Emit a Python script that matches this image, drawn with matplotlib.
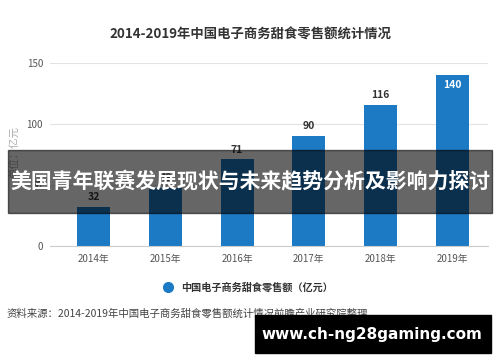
import matplotlib
matplotlib.use("Agg")
import matplotlib.pyplot as plt
from matplotlib.patches import Rectangle
from matplotlib.lines import Line2D

plt.rcParams['font.family'] = ['Noto Sans CJK SC', 'DejaVu Sans']

years = ["2014年", "2015年", "2016年", "2017年", "2018年", "2019年"]
sales = [32, 48, 71, 90, 116, 140]
yticks = [0, 50, 100, 150]

BLUE = "#1c79c4"

fig = plt.figure(figsize=(5, 3.62), dpi=100)
ax = fig.add_axes([0.1, 0.32, 0.876, 0.506])

x = range(len(years))
bars = ax.bar(x, sales, width=0.46, color=BLUE, zorder=2)
for i, v in enumerate(sales):
    if i == len(sales) - 1:
        ax.text(i, v - 4, str(v), ha="center", va="top", color="white",
                fontsize=7.5, fontweight="bold", zorder=3)
    else:
        ax.text(i, v + 4, str(v), ha="center", va="bottom", color="#333333",
                fontsize=7.5, fontweight="bold", zorder=3)

ax.set_xlim(-0.61, 5.5)
ax.set_ylim(0, 150)
ax.set_yticks(yticks)
ax.set_xticks(list(x))
ax.set_xticklabels(years)
ax.grid(axis="y", color="#e3e3e3", linewidth=0.8, zorder=0)
for s in ["top", "right", "left"]:
    ax.spines[s].set_visible(False)
ax.spines["bottom"].set_color("#cccccc")
ax.tick_params(axis="both", length=0, labelsize=7, colors="#555555")
ax.tick_params(axis="y", pad=5)
ax.tick_params(axis="x", pad=6)

fig.text(0.5, 0.903, "2014-2019年中国电子商务甜食零售额统计情况", ha="center", va="center",
         fontsize=9.6, fontweight="bold", color="#333333")
fig.text(0.03, 0.58, "单位：亿元", rotation=90, ha="center", va="center",
         fontsize=7.5, color="#aaaaaa")

handle = Line2D([], [], marker="o", linestyle="none", markersize=7, color=BLUE)
fig.legend(handles=[handle], labels=["中国电子商务甜食零售额（亿元）"], loc="center",
           bbox_to_anchor=(0.49, 0.207), frameon=False, handletextpad=0.3,
           prop={"size": 7.3, "weight": "bold"}, labelcolor="#333333")

fig.text(0.014, 0.133, "资料来源：2014-2019年中国电子商务甜食零售额统计情况前瞻产业研究院整理",
         ha="left", va="center", fontsize=7.5, color="#444444")
fig.text(0.796, 0.088, "@前瞻经济学人APP", ha="left", va="center", fontsize=7.5,
         color="#888888")

# overlay banner
fig.patches.append(Rectangle((0.016, 1 - 213 / 362), 0.968, 63 / 362,
                             transform=fig.transFigure, color="black", alpha=0.6,
                             zorder=5))
fig.text(0.5, 1 - 182 / 362, "美国青年联赛发展现状与未来趋势分析及影响力探讨",
         ha="center", va="center", fontsize=15, fontweight="bold", color="white",
         zorder=6)

# black url box
fig.patches.append(Rectangle((0.51, 1 - 353 / 362), 0.472, 38 / 362,
                             transform=fig.transFigure, color="black", zorder=5))
fig.text(0.743, 1 - 334 / 362, "www.ch-ng28gaming.com", ha="center", va="center",
         fontsize=11, fontweight="bold", color="white",
         family="DejaVu Sans", zorder=6)

fig.savefig("out.png", dpi=100)
